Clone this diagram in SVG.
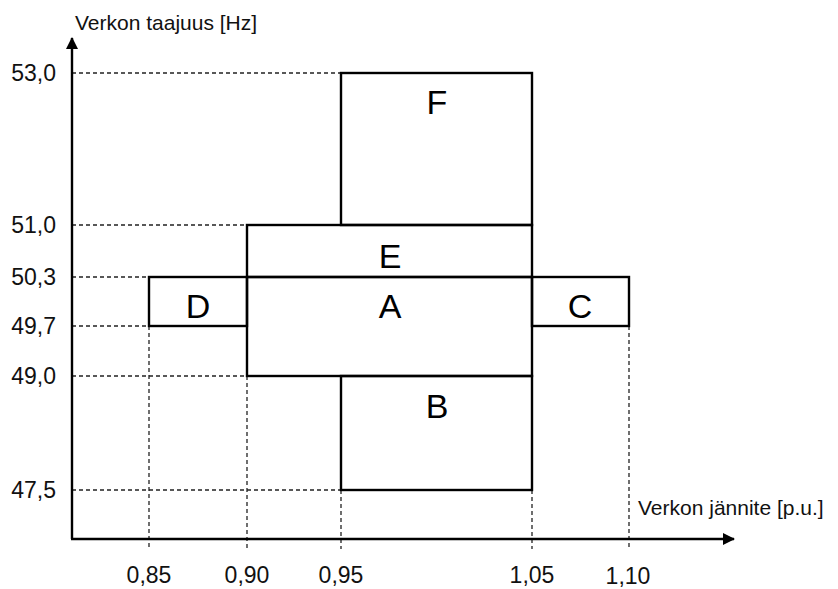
<svg xmlns="http://www.w3.org/2000/svg" width="838" height="589" viewBox="0 0 838 589">
<style>
.box{fill:none;stroke:#000;stroke-width:2.4}
.dash{fill:none;stroke:#222;stroke-width:1.3;stroke-dasharray:4 3}
.axis{fill:none;stroke:#000;stroke-width:2.4}
.tick{font-family:"Liberation Sans",Arial,sans-serif;font-size:23px;fill:#111}
.lab{font-family:"Liberation Sans",Arial,sans-serif;font-size:21px;fill:#111}
.big{font-family:"Liberation Sans",Arial,sans-serif;font-size:34px;fill:#000;text-anchor:middle}
</style>
<defs>
<marker id="arr" viewBox="0 0 12 12" refX="11" refY="6" markerWidth="12" markerHeight="12" markerUnits="userSpaceOnUse" orient="auto">
<path d="M0,0 L12,6 L0,12 Z" fill="#000"/>
</marker>
</defs>
<rect width="838" height="589" fill="#fff"/>
<g id="connectors">
<path class="dash" d="M72,73H341 M72,225H247 M72,277H149 M72,326H149 M72,376H247 M72,490H341"/>
<path class="dash" d="M149,326V549 M247,376V549 M341,490V549 M532,490V549 M629,326V549"/>
<path class="axis" d="M72,539V38" marker-end="url(#arr)"/>
<path class="axis" d="M71,539H734" marker-end="url(#arr)"/>
</g>
<g id="F"><rect class="box" x="341" y="73" width="191" height="152"/><text class="big" x="437" y="114">F</text></g>
<g id="E"><rect class="box" x="247" y="225" width="285" height="52"/><text class="big" x="390" y="268">E</text></g>
<g id="A"><rect class="box" x="247" y="277" width="285" height="99"/><text class="big" x="390" y="318">A</text></g>
<g id="D"><rect class="box" x="149" y="277" width="98" height="49"/><text class="big" x="198" y="318">D</text></g>
<g id="C"><rect class="box" x="532" y="277" width="97" height="49"/><text class="big" x="580" y="318">C</text></g>
<g id="B"><rect class="box" x="341" y="376" width="191" height="114"/><text class="big" x="437" y="418">B</text></g>
<g id="labels">
<text class="lab" x="75" y="30">Verkon taajuus [Hz]</text>
<text class="lab" x="638" y="515">Verkon jännite [p.u.]</text>
<g class="tick" text-anchor="end">
<text x="56" y="81">53,0</text>
<text x="56" y="233">51,0</text>
<text x="56" y="285">50,3</text>
<text x="56" y="334">49,7</text>
<text x="56" y="384">49,0</text>
<text x="56" y="498">47,5</text>
</g>
<g class="tick" text-anchor="middle">
<text x="149" y="583">0,85</text>
<text x="247" y="583">0,90</text>
<text x="341" y="583">0,95</text>
<text x="532" y="583">1,05</text>
<text x="628" y="584">1,10</text>
</g>
</g>
</svg>
